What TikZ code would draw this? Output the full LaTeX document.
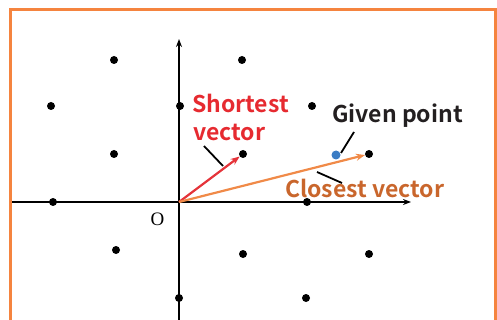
\documentclass[tikz,border=0pt]{standalone}
\usepackage{fontspec}
\newfontfamily\labfont{Noto Sans CJK JP}[BoldFont={Noto Sans CJK JP Bold}]
\newfontfamily\ofont{Liberation Serif}
\usetikzlibrary{arrows.meta}
\definecolor{frameorange}{HTML}{F5843F}
\definecolor{vecred}{HTML}{E5343A}
\definecolor{vecorange}{HTML}{F08A48}
\definecolor{txtred}{HTML}{E62A30}
\definecolor{txtorange}{HTML}{C9662C}
\definecolor{txtblack}{HTML}{231F20}
\definecolor{givenblue}{HTML}{3B7CC4}
\tikzset{
  lattice/.style={circle,fill=black,inner sep=0pt,minimum size=8pt},
  axis/.style={line width=1.8pt,-{Stealth[length=8pt,width=6pt]}},
  vec/.style={line width=2.2pt,-{Stealth[length=9pt,width=7pt]}},
  lead/.style={line width=1.8pt,black},
  lab/.style={font=\labfont\bfseries\fontsize{23}{27}\selectfont,inner sep=0pt,anchor=base west},
}
\begin{document}
\begin{tikzpicture}[x=1pt,y=-1pt]
\useasboundingbox (0,0) rectangle (497,320);
\clip (0,0) rectangle (497,320);
\draw[frameorange,line width=3pt] (10.5,10) rectangle (495.3,340);
% axes
\coordinate (O) at (179,202);
\coordinate (xs) at (12,202);
\coordinate (xe) at (411,202);
\coordinate (ys) at (179,322);
\coordinate (ye) at (179,39);
\draw[axis] (xs) -- (xe);
\draw[axis] (ys) -- (ye);
\node[font=\ofont\fontsize{19}{19}\selectfont,inner sep=0pt,anchor=base] (olab) at (157.5,225) {O};
% lattice points
\node[lattice] (p1) at (114,60) {};
\node[lattice] (p2) at (242,60) {};
\node[lattice] (p3) at (51,106) {};
\node[lattice] (p4) at (180,106) {};
\node[lattice] (p5) at (312,106) {};
\node[lattice] (p6) at (114,154) {};
\node[lattice] (p7) at (243,154) {};
\node[lattice] (p8) at (369,154) {};
\node[lattice] (p9) at (53,202) {};
\node[lattice] (p10) at (307,202) {};
\node[lattice] (p11) at (116,250) {};
\node[lattice] (p12) at (243,254) {};
\node[lattice] (p13) at (369,254) {};
\node[lattice] (p14) at (179,298) {};
\node[lattice] (p15) at (306,298) {};
\node[circle,fill=givenblue,inner sep=0pt,minimum size=9pt] (g) at (336,155) {};
% vectors
\draw[vec,vecred] (O) -- (p7);
\draw[vec,vecorange] (O) -- (p8);
% labels
\node[lab,text=txtred] (sv1) at (192,113) {Shortest};
\node[lab,text=txtred] (sv2) at (193,141) {vector};
\node[lab,text=txtblack] (gp) at (332,123) {Given point};
\node[lab,text=txtorange] (cv) at (285,197) {Closest vector};
% leaders
\coordinate (a1) at (204,146);
\coordinate (a2) at (223,166);
\coordinate (b1) at (354,132);
\coordinate (b2) at (341,153);
\coordinate (c1) at (317,172);
\coordinate (c2) at (342,183);
\draw[lead] (a1) -- (a2);
\draw[lead] (b1) -- (b2);
\draw[lead] (c1) -- (c2);
\end{tikzpicture}
\end{document}
